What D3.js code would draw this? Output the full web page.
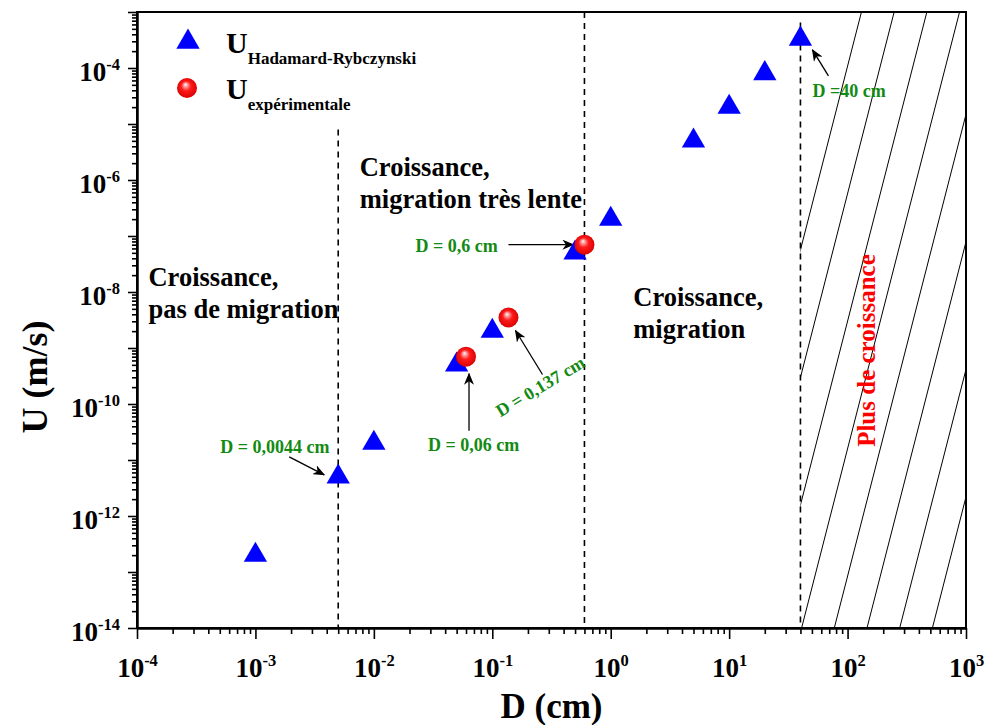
<!DOCTYPE html>
<html>
<head>
<meta charset="utf-8">
<script src="https://cdn.jsdelivr.net/npm/d3@7"></script>
<style>
  html, body { margin: 0; padding: 0; background: #fff; }
  svg { display: block; }
  text { font-family: "Liberation Serif", "Times New Roman", serif; font-weight: bold; }
</style>
</head>
<body>
<svg id="chart" width="986" height="725"></svg>
<script>
// Rise velocity of bubbles vs. diameter (log-log)
const hadamardD = [0.001, 0.005, 0.01, 0.05, 0.1, 0.5, 1, 5, 10, 20, 40];
const hadamardU = [2e-13, 5e-12, 2e-11, 5e-10, 2e-9, 5e-8, 2e-7, 5e-6, 2e-5, 8e-5, 3.3e-4];
const experimentalD = [0.06, 0.137, 0.6];
const experimentalU = [7e-10, 3.5e-9, 7e-8];

const xTickExponents = [-4, -3, -2, -1, 0, 1, 2, 3];
const yMajorExponents = [-14, -13, -12, -11, -10, -9, -8, -7, -6, -5, -4, -3];
const yLabelExponents = [-14, -12, -10, -8, -6, -4];

// Regime boundaries (diameter) and where each dashed line stops at the top
const boundaryD = [0.005, 0.6, 40];
const boundaryTopU = [8e-6, 1e-3, 6.5e-4];

const regionLines = [
  ["Croissance,", "pas de migration"],
  ["Croissance,", "migration très lente"],
  ["Croissance,", "migration"]
];
const regionAnchorD = [1.25e-4, 7.6e-3, 1.55];
const regionAnchorU = [1.3e-8, 1.2e-6, 5.6e-9];

const noGrowthLabel = "Plus de croissance";

const calloutText = ["D = 0,0044 cm", "D = 0,06 cm", "D = 0,137 cm", "D = 0,6 cm", "D =40 cm"];
const calloutD = [0.005, 0.06, 0.137, 0.6, 40];
const calloutU = [5e-12, 7e-10, 3.5e-9, 7e-8, 3.3e-4];

const legendMain = ["U", "U"];
const legendSub = ["Hadamard-Rybczynski", "expérimentale"];

// ---- layout ----
const W = 986, H = 725;
const plot = { left: 137, right: 966, top: 12, bottom: 628 };
const svg = d3.select("#chart");

const x = d3.scaleLog().domain([1e-4, 1e3]).range([plot.left, plot.right]);
const y = d3.scaleLog().domain([1e-14, 1e-3]).range([plot.bottom, plot.top]);

const defs = svg.append("defs");
const grad = defs.append("radialGradient").attr("id", "ball")
  .attr("cx", "50%").attr("cy", "50%").attr("r", "55%")
  .attr("fx", "42%").attr("fy", "32%");
grad.append("stop").attr("offset", "0%").attr("stop-color", "#ffffff");
grad.append("stop").attr("offset", "18%").attr("stop-color", "#ff9a9a");
grad.append("stop").attr("offset", "45%").attr("stop-color", "#ff1a1a");
grad.append("stop").attr("offset", "100%").attr("stop-color", "#d40000");

defs.append("marker").attr("id", "arrow")
  .attr("viewBox", "0 0 12 10").attr("refX", 11).attr("refY", 5)
  .attr("markerWidth", 12).attr("markerHeight", 10)
  .attr("markerUnits", "userSpaceOnUse").attr("orient", "auto")
  .append("path").attr("d", "M0,0 L12,5 L0,10 L3.5,5 Z").attr("fill", "#000");

defs.append("clipPath").attr("id", "hatchClip")
  .append("rect")
  .attr("x", x(boundaryD[2])).attr("y", plot.top)
  .attr("width", plot.right - x(boundaryD[2])).attr("height", plot.bottom - plot.top);

// ---- hatch for the no-growth zone ----
const hatch = svg.append("g").attr("clip-path", "url(#hatchClip)");
const slope = 3.9;              // dy/dx of the hatch strokes
const span = (plot.bottom - plot.top) / slope;
const hatchStarts = d3.range(x(boundaryD[2]) + 61, plot.right + span, 32.7);
hatch.selectAll("line").data(hatchStarts).join("line")
  .attr("x1", d => d).attr("y1", plot.top)
  .attr("x2", d => d - span).attr("y2", plot.bottom)
  .attr("stroke", "#000").attr("stroke-width", 1);

// ---- dashed boundaries ----
svg.append("g").selectAll("line").data(boundaryD).join("line")
  .attr("x1", d => x(d)).attr("x2", d => x(d))
  .attr("y1", (d, i) => y(boundaryTopU[i])).attr("y2", plot.bottom)
  .attr("stroke", "#000").attr("stroke-width", 1.6)
  .attr("stroke-dasharray", "6,5");

// ---- axes ----
const decadesX = d3.range(-4, 3);
const minorX = decadesX.flatMap(e => d3.range(2, 10).map(k => k * Math.pow(10, e)));
const decadesY = d3.range(-14, -3);
const minorY = decadesY.flatMap(e => d3.range(2, 10).map(k => k * Math.pow(10, e)));

function superscriptLabel(sel, expOf) {
  sel.each(function (d) {
    const t = d3.select(this).text(null);
    t.append("tspan").text("10");
    t.append("tspan").attr("dy", "-0.62em").attr("font-size", "16.5px").text(expOf(d));
  });
}

const gx = svg.append("g").attr("transform", `translate(0,${plot.bottom})`);
gx.append("g").call(d3.axisBottom(x).tickValues(minorX).tickSize(6).tickSizeOuter(0).tickFormat(""));
gx.append("g").call(d3.axisBottom(x).tickValues(xTickExponents.map(e => Math.pow(10, e)))
  .tickSize(11).tickSizeOuter(0).tickPadding(10).tickFormat(""))
  .call(g => g.selectAll(".tick text")
    .attr("font-size", "27px").attr("fill", "#000").attr("dy", "1.02em")
    .call(superscriptLabel, d => Math.round(Math.log10(d))));

const gy = svg.append("g").attr("transform", `translate(${plot.left},0)`);
gy.append("g").call(d3.axisLeft(y).tickValues(minorY).tickSize(5).tickSizeOuter(0).tickFormat(""));
gy.append("g").call(d3.axisLeft(y).tickValues(yMajorExponents.map(e => Math.pow(10, e)))
  .tickSize(9).tickSizeOuter(0).tickPadding(8).tickFormat(""))
  .call(g => g.selectAll(".tick text")
    .filter(d => yLabelExponents.includes(Math.round(Math.log10(d))))
    .attr("font-size", "27px").attr("fill", "#000").attr("dy", "0.45em")
    .call(superscriptLabel, d => Math.round(Math.log10(d))));

svg.selectAll(".domain").attr("stroke", "#000").attr("stroke-width", 2);
svg.selectAll(".tick line").attr("stroke", "#000").attr("stroke-width", 1.6);

// frame
svg.append("rect")
  .attr("x", plot.left).attr("y", plot.top)
  .attr("width", plot.right - plot.left).attr("height", plot.bottom - plot.top)
  .attr("fill", "none").attr("stroke", "#000").attr("stroke-width", 2);

// axis titles
svg.append("text").attr("x", (plot.left + plot.right) / 2).attr("y", 718)
  .attr("text-anchor", "middle").attr("font-size", "35px").text("D (cm)");
svg.append("text").attr("transform", `translate(47,${(plot.top + plot.bottom) / 2 + 57}) rotate(-90)`)
  .attr("text-anchor", "middle").attr("font-size", "36px").text("U (m/s)");

// ---- regime labels ----
regionLines.forEach((lines, i) => {
  const t = svg.append("text")
    .attr("x", x(regionAnchorD[i])).attr("y", y(regionAnchorU[i]))
    .attr("font-size", "26.5px").attr("fill", "#000");
  lines.forEach((s, j) => t.append("tspan")
    .attr("x", x(regionAnchorD[i])).attr("dy", j === 0 ? 0 : "1.22em").text(s));
});

svg.append("text")
  .attr("transform", `translate(${x(143)},${y(9e-10)}) rotate(-90)`)
  .attr("text-anchor", "middle").attr("dy", "0.35em")
  .attr("font-size", "25px").attr("fill", "#ff0000").text(noGrowthLabel);

// ---- callouts ----
const calloutTextOffset = [[-118, -24], [-38, 94], [-8, 100], [-169, 7], [12, 58]];
const calloutArrow = [[[-49, -20], [-14, -2]], [[3, 74], [3, 17]], [[34, 57], [7, 13]], [[-76, 0], [-11, 0]], [[28, 37], [12, 11]]];
const calloutAngle = [0, 0, -31, 0, 0];

calloutText.forEach((s, i) => {
  const px = x(calloutD[i]), py = y(calloutU[i]);
  const [a, b] = calloutArrow[i];
  svg.append("line")
    .attr("x1", px + a[0]).attr("y1", py + a[1])
    .attr("x2", px + b[0]).attr("y2", py + b[1])
    .attr("stroke", "#000").attr("stroke-width", 1.3)
    .attr("marker-end", "url(#arrow)");
  const [ox, oy] = calloutTextOffset[i];
  svg.append("text")
    .attr("transform", `translate(${px + ox},${py + oy}) rotate(${calloutAngle[i]})`)
    .attr("font-size", "18px").attr("fill", "#138a13").text(s);
});

// ---- data marks ----
const tri = d3.symbol().type(d3.symbolTriangle).size(235);
svg.append("g").selectAll("path").data(hadamardD).join("path")
  .attr("transform", (d, i) => `translate(${x(d)},${y(hadamardU[i])})`)
  .attr("d", tri).attr("fill", "#0000ff");

svg.append("g").selectAll("circle").data(experimentalD).join("circle")
  .attr("cx", d => x(d)).attr("cy", (d, i) => y(experimentalU[i]))
  .attr("r", 10).attr("fill", "url(#ball)");

// ---- legend ----
const legend = svg.append("g");
legend.append("path").attr("transform", "translate(188,42)").attr("d", tri).attr("fill", "#0000ff");
legend.append("circle").attr("cx", 187).attr("cy", 88).attr("r", 10).attr("fill", "url(#ball)");
[53, 99].forEach((by, i) => {
  const t = legend.append("text").attr("x", 226).attr("y", by).attr("font-size", "30px");
  t.append("tspan").text(legendMain[i]);
  t.append("tspan").attr("dy", 11).attr("font-size", "17px").text(legendSub[i]);
});
</script>
</body>
</html>
